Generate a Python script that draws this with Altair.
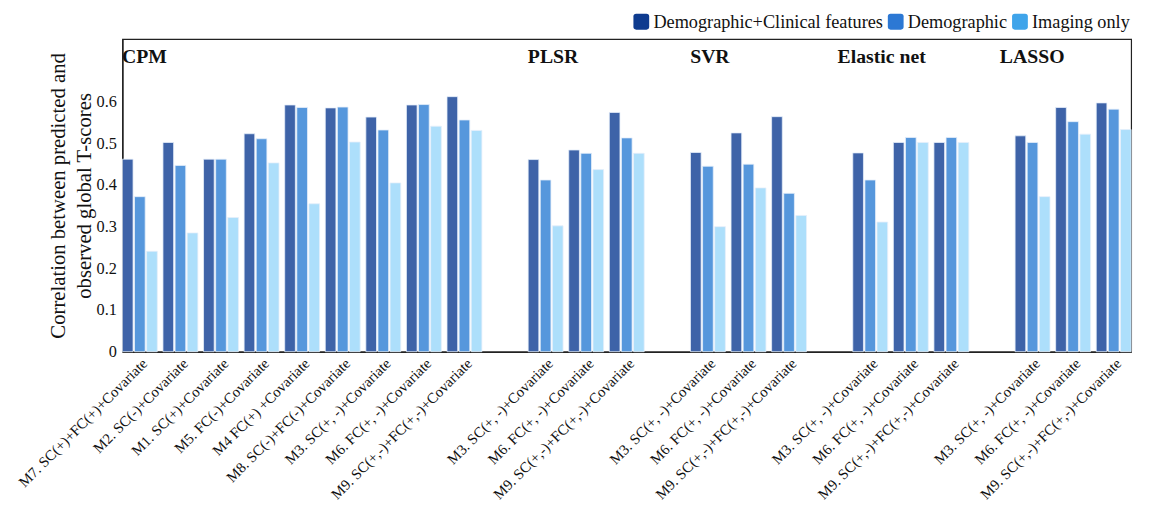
import altair as alt
import pandas as pd

# ---- data ----
methods = ["CPM", "PLSR", "SVR", "Elastic net", "LASSO"]

cpm_labels = [
    "M7. SC(+)+FC(+)+Covariate",
    "M2. SC(-)+Covariate",
    "M1. SC(+)+Covariate",
    "M5. FC(-)+Covariate",
    "M4 FC(+) +Covariate",
    "M8. SC(-)+FC(-)+Covariate",
    "M3. SC(+, -)+Covariate",
    "M6. FC(+, -)+Covariate",
    "M9. SC(+,-)+FC(+,-)+Covariate",
]
other_labels = [
    "M3. SC(+, -)+Covariate",
    "M6. FC(+, -)+Covariate",
    "M9. SC(+,-)+FC(+,-)+Covariate",
]

series = ["Demographic+Clinical features", "Demographic", "Imaging only"]

# values per method: [dem+clin, dem, imaging] per model
cpm_clin = [0.462, 0.502, 0.462, 0.523, 0.592, 0.585, 0.563, 0.592, 0.612]
cpm_dem = [0.372, 0.447, 0.462, 0.511, 0.586, 0.587, 0.532, 0.593, 0.556]
cpm_img = [0.241, 0.285, 0.322, 0.453, 0.355, 0.503, 0.405, 0.541, 0.531]

plsr_clin = [0.461, 0.484, 0.574]
plsr_dem = [0.412, 0.476, 0.513]
plsr_img = [0.302, 0.437, 0.476]

svr_clin = [0.478, 0.525, 0.564]
svr_dem = [0.445, 0.450, 0.380]
svr_img = [0.300, 0.393, 0.327]

en_clin = [0.477, 0.502, 0.502]
en_dem = [0.412, 0.514, 0.514]
en_img = [0.311, 0.502, 0.502]

lasso_clin = [0.518, 0.586, 0.597]
lasso_dem = [0.502, 0.552, 0.582]
lasso_img = [0.372, 0.522, 0.533]

bar_colors = ["#3E63A8", "#5697DC", "#ADDFFB"]
legend_colors = ["#0E3B8F", "#2C78D4", "#3FA4EA"]

# ---- build the table ----
blocks = [
    ("CPM", cpm_labels, cpm_clin, cpm_dem, cpm_img),
    ("PLSR", other_labels, plsr_clin, plsr_dem, plsr_img),
    ("SVR", other_labels, svr_clin, svr_dem, svr_img),
    ("Elastic net", other_labels, en_clin, en_dem, en_img),
    ("LASSO", other_labels, lasso_clin, lasso_dem, lasso_img),
]

rows = []
order = []
first_keys = []
spacer_keys = [None]
for bi, (m, labs, a, b, c) in enumerate(blocks):
    if bi > 0:
        sk = f"sp{bi}|"
        order.append(sk)
        spacer_keys.append(sk)
    for i, lab in enumerate(labs):
        key = f"{m}::{i}|{lab}"
        order.append(key)
        if i == 0:
            first_keys.append(key)
        for s, v in zip(series, [a[i], b[i], c[i]]):
            rows.append({"key": key, "series": s, "value": v})

df = pd.DataFrame(rows)
# first three titles sit over their first model, the last two over the gap before them
titles_a = pd.DataFrame({"title": methods[:3], "anchor": first_keys[:3]})
titles_b = pd.DataFrame({"title": methods[3:], "anchor": spacer_keys[3:]})

serif = "Liberation Serif"

xscale = alt.Scale(domain=order, paddingInner=0.14, paddingOuter=0.0)

bars = alt.Chart(df).mark_bar(stroke="#e6eefa", strokeWidth=0.8).encode(
    x=alt.X(
        "key:N",
        scale=xscale,
        sort=order,
        axis=alt.Axis(
            title=None,
            labelExpr="split(datum.value, '|')[1]",
            labelAngle=-45,
            labelFont=serif,
            labelFontSize=15,
            labelColor="#111",
            labelLimit=400,
            ticks=False,
            labelPadding=4,
            domainColor="#222",
            domainWidth=1.5,
        ),
    ),
    xOffset=alt.XOffset(
        "series:N", sort=series, scale=alt.Scale(domain=series, paddingInner=0.12)
    ),
    y=alt.Y(
        "value:Q",
        scale=alt.Scale(domain=[0, 0.75], nice=False),
        axis=alt.Axis(
            values=[0, 0.1, 0.2, 0.3, 0.4, 0.5, 0.6],
            format=".1~f",
            grid=False,
            ticks=False,
            labelFont=serif,
            labelFontSize=16.5,
            labelColor="#111",
            labelPadding=6,
            domainColor="#222",
            domainWidth=1.5,
            title=["Correlation between predicted and", "observed global T-scores"],
            titleFont=serif,
            titleFontSize=21,
            titleFontWeight="normal",
            titleColor="#111",
            titlePadding=2,
            titleLineHeight=26,
        ),
    ),
    color=alt.Color(
        "series:N", scale=alt.Scale(domain=series, range=bar_colors), legend=None
    ),
)

legend_layer = alt.Chart(df).transform_calculate(lg="datum.series").mark_point(
    filled=True, opacity=0
).encode(
    x=alt.X("key:N", scale=xscale, sort=order),
    y=alt.Y("value:Q"),
    color=alt.Color(
        "lg:N",
        scale=alt.Scale(domain=series, range=legend_colors),
        legend=alt.Legend(
            title=None,
            orient="none",
            direction="horizontal",
            legendX=517,
            legendY=-27,
            symbolType="M -0.65 -1 L 0.65 -1 Q 1 -1 1 -0.65 L 1 0.65 Q 1 1 0.65 1 L -0.65 1 Q -1 1 -1 0.65 L -1 -0.65 Q -1 -1 -0.65 -1 Z",
            symbolSize=256,
            symbolOpacity=1,
            symbolStrokeWidth=0,
            labelFont=serif,
            labelFontSize=18.5,
            labelLimit=0,
            labelColor="#111",
            labelOffset=3,
            columnPadding=3,
        ),
    ),
)

title_a = alt.Chart(titles_a).mark_text(
    font=serif, fontSize=20, fontWeight="bold", align="left", baseline="middle",
    dx=-18, color="#111"
).encode(
    x=alt.X("anchor:N", scale=xscale, sort=order),
    y=alt.value(18),
    text="title:N",
)

title_b = alt.Chart(titles_b).mark_text(
    font=serif, fontSize=20, fontWeight="bold", align="left", baseline="middle",
    dx=8, color="#111"
).encode(
    x=alt.X("anchor:N", scale=xscale, sort=order),
    y=alt.value(18),
    text="title:N",
)

chart = (
    alt.layer(bars, legend_layer, title_a, title_b)
    .resolve_scale(color="independent")
    .resolve_legend(color="independent")
    .properties(
        width=1023,
        height=317,
        autosize=alt.AutoSizeParams(type="none"),
        padding={"left": 116, "top": 28, "right": 10, "bottom": 160},
    )
    .configure(font=serif)
    .configure_view(stroke="#222", strokeWidth=1.2)
    .configure_legend(labelFont=serif, labelFontSize=18.5, labelLimit=0, labelColor="#111")
)

chart.save("out.html", embed_options={"renderer": "svg", "actions": False})
